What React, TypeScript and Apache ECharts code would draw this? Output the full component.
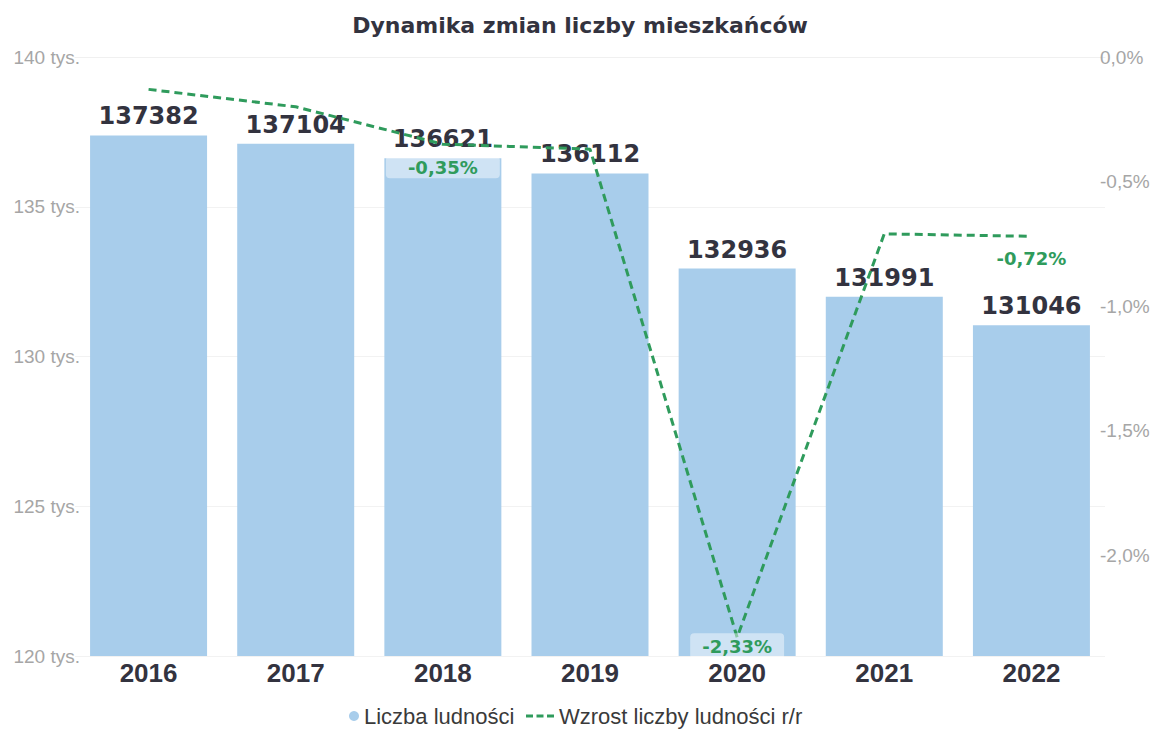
import React, { useEffect, useRef } from "react";
import * as echarts from "echarts";

const title = "Dynamika zmian liczby mieszkańców";
const years = ["2016", "2017", "2018", "2019", "2020", "2021", "2022"];
const population = [137382, 137104, 136621, 136112, 132936, 131991, 131046];
const growth = [-0.13, -0.2, -0.35, -0.37, -2.33, -0.71, -0.72];
const labeledGrowthYears = ["2018", "2020", "2022"];
const popName = "Liczba ludności";
const growthName = "Wzrost liczby ludności r/r";

const fmtPct = (v: number, d: number) => v.toFixed(d).replace(".", ",") + "%";
const FONT = "Liberation Sans, Arial, sans-serif";
const WIDE = "DejaVu Sans, Verdana, sans-serif";

export default function App() {
  const ref = useRef<HTMLDivElement>(null);
  useEffect(() => {
    if (!ref.current) return;
    const chart = echarts.init(ref.current, undefined, { renderer: "svg" });
    const green = "#2f9b5c";
    const growthData = growth.map((v, i) => {
      const shown = labeledGrowthYears.includes(years[i]);
      const item: any = { value: v };
      if (shown) {
        item.label = {
          show: true,
          position: "bottom",
          distance: years[i] === "2020" ? -4 : years[i] === "2022" ? 9 : 12,
          formatter: () => fmtPct(v, 2),
          color: green,
          fontFamily: WIDE,
          fontWeight: "bold",
          fontSize: 18,
          lineHeight: 18,
          backgroundColor: years[i] === "2022" ? "transparent" : "rgba(255,255,255,0.45)",
          borderRadius: 4,
          padding: years[i] === "2018" ? [2, 22, 2, 22] : [4, 12, 4, 12],
        };
      }
      return item;
    });
    const legendText = { fontFamily: FONT, fontSize: 22, color: "#3a3a3a" };
    chart.setOption({
      animation: false,
      backgroundColor: "#ffffff",
      title: {
        text: title,
        left: "center",
        top: 9,
        textStyle: {
          fontFamily: WIDE,
          fontWeight: "bold",
          fontSize: 22,
          color: "#33333f",
        },
      },
      legend: [
        {
          top: 705,
          left: 349,
          padding: 0,
          textStyle: legendText,
          data: [{ name: popName, icon: "circle" }],
          itemWidth: 10,
          itemHeight: 10,
        },
        {
          top: 705,
          left: 526,
          padding: 0,
          textStyle: legendText,
          data: [
            {
              name: growthName,
              icon: "path://M0,0h7v3h-7z M10.5,0h7v3h-7z M21,0h7v3h-7z",
            },
          ],
          itemWidth: 28,
          itemHeight: 10,
        },
      ],
      grid: { left: 75, right: 55, top: 57, bottom: 73 },
      xAxis: {
        type: "category",
        data: years,
        axisTick: { show: false },
        axisLine: { show: true, lineStyle: { color: "#f0f0f0" } },
        axisLabel: {
          fontFamily: FONT,
          fontWeight: "bold",
          fontSize: 26,
          color: "#33333f",
          margin: 4,
        },
      },
      yAxis: [
        {
          type: "value",
          min: 120000,
          max: 140000,
          interval: 5000,
          axisLabel: {
            formatter: (v: number) => v / 1000 + " tys.",
            fontFamily: FONT,
            fontSize: 19,
            color: "#a6a6a6",
            margin: -5,
          },
          axisLine: { show: false },
          axisTick: { show: false },
          splitLine: { lineStyle: { color: "#f2f2f2" } },
        },
        {
          type: "value",
          min: -2.405,
          max: 0,
          splitNumber: 5,
          position: "right",
          axisLabel: {
            formatter: (v: number) => fmtPct(v, 1),
            fontFamily: FONT,
            fontSize: 19,
            color: "#a6a6a6",
            margin: -5,
            showMinLabel: false,
          },
          axisLine: { show: false },
          axisTick: { show: false },
          splitLine: { show: false },
        },
      ],
      series: [
        {
          name: popName,
          type: "bar",
          data: population,
          barWidth: 117,
          itemStyle: { color: "#a8cdeb" },
          label: {
            show: true,
            position: "top",
            distance: 7,
            fontFamily: WIDE,
            fontWeight: "bold",
            fontSize: 24,
            color: "#33333f",
          },
          z: 1,
        },
        {
          name: growthName,
          type: "line",
          yAxisIndex: 1,
          data: growthData,
          symbol: "circle",
          symbolSize: 0,
          showSymbol: true,
          lineStyle: { color: green, width: 3, type: [8, 5] },
          itemStyle: { color: green },
          z: 2,
        },
      ],
    });
    return () => chart.dispose();
  }, []);
  return (
    <div
      ref={ref}
      style={{ position: "fixed", left: 0, top: 0, width: 1160, height: 729 }}
    />
  );
}
